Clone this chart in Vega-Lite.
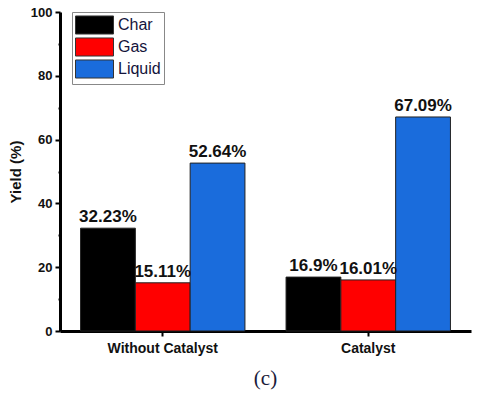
{
  "$schema": "https://vega.github.io/schema/vega-lite/v6.json",
  "width": 411,
  "height": 319,
  "autosize": {"type": "none"},
  "padding": {"left": 60, "top": 12, "right": 9, "bottom": 62},
  "background": "white",
  "title": {
    "text": "(c)",
    "orient": "bottom",
    "font": "Liberation Serif",
    "fontSize": 21,
    "fontWeight": "normal",
    "color": "#1a1a3a",
    "offset": 13,
    "anchor": "middle"
  },
  "data": {
    "values": [
      {"condition": "Without Catalyst", "product": "Char", "yield": 32.23, "label": "32.23%"},
      {"condition": "Without Catalyst", "product": "Gas", "yield": 15.11, "label": "15.11%"},
      {"condition": "Without Catalyst", "product": "Liquid", "yield": 52.64, "label": "52.64%"},
      {"condition": "Catalyst", "product": "Char", "yield": 16.9, "label": "16.9%"},
      {"condition": "Catalyst", "product": "Gas", "yield": 16.01, "label": "16.01%"},
      {"condition": "Catalyst", "product": "Liquid", "yield": 67.09, "label": "67.09%"}
    ]
  },
  "encoding": {
    "x": {
      "field": "condition",
      "type": "nominal",
      "sort": ["Without Catalyst", "Catalyst"],
      "scale": {"paddingInner": 0.2, "paddingOuter": 0.1},
      "axis": {
        "title": null,
        "labelAngle": 0,
        "labelFont": "Liberation Sans",
        "labelFontSize": 14,
        "labelFontWeight": "bold",
        "labelColor": "#111",
        "labelPadding": 5,
        "domainColor": "black",
        "domainWidth": 3,
        "tickColor": "black",
        "tickSize": 5,
        "tickWidth": 2
      }
    },
    "xOffset": {
      "field": "product",
      "type": "nominal",
      "sort": ["Char", "Gas", "Liquid"],
      "scale": {"paddingInner": 0, "paddingOuter": 0}
    },
    "y": {
      "field": "yield",
      "type": "quantitative",
      "scale": {"domain": [0, 100], "nice": false},
      "axis": {
        "title": "Yield (%)",
        "titleFont": "Liberation Sans",
        "titleFontSize": 15,
        "titleFontWeight": "bold",
        "titleColor": "#111",
        "titlePadding": 7,
        "values": [0, 10, 20, 30, 40, 50, 60, 70, 80, 90, 100],
        "labelExpr": "datum.value % 20 === 0 ? datum.label : ''",
        "labelFont": "Liberation Sans",
        "labelFontSize": 13,
        "labelFontWeight": "bold",
        "labelColor": "#111",
        "labelPadding": 3,
        "grid": false,
        "domainColor": "black",
        "domainWidth": 3,
        "tickColor": "black",
        "tickSize": {"condition": {"test": "datum.value % 20 === 0", "value": 5}, "value": 2},
        "tickWidth": 2
      }
    }
  },
  "layer": [
    {
      "mark": {"type": "bar", "stroke": "#222", "strokeWidth": 1},
      "encoding": {
        "color": {
          "field": "product",
          "type": "nominal",
          "sort": ["Char", "Gas", "Liquid"],
          "scale": {"domain": ["Char", "Gas", "Liquid"], "range": ["#000000", "#ff0000", "#1a6cdc"]},
          "legend": {
            "title": null,
            "orient": "none",
            "legendX": 12,
            "legendY": 0,
            "symbolType": "M-1,-0.95H3V0.95H-1Z",
            "symbolSize": 361,
            "symbolStrokeColor": "#333",
            "symbolStrokeWidth": 1,
            "labelFont": "Liberation Sans",
            "labelFontSize": 16,
            "labelColor": "#14143c",
            "labelOffset": 23,
            "rowPadding": -4,
            "padding": 3,
            "strokeColor": "#888",
            "fillColor": "white"
          }
        }
      }
    },
    {
      "mark": {
        "type": "text",
        "baseline": "bottom",
        "dy": -2,
        "font": "Liberation Sans",
        "fontSize": 17,
        "fontWeight": "bold",
        "color": "#111"
      },
      "encoding": {
        "text": {"field": "label"}
      }
    }
  ],
  "config": {
    "view": {"stroke": null}
  }
}
